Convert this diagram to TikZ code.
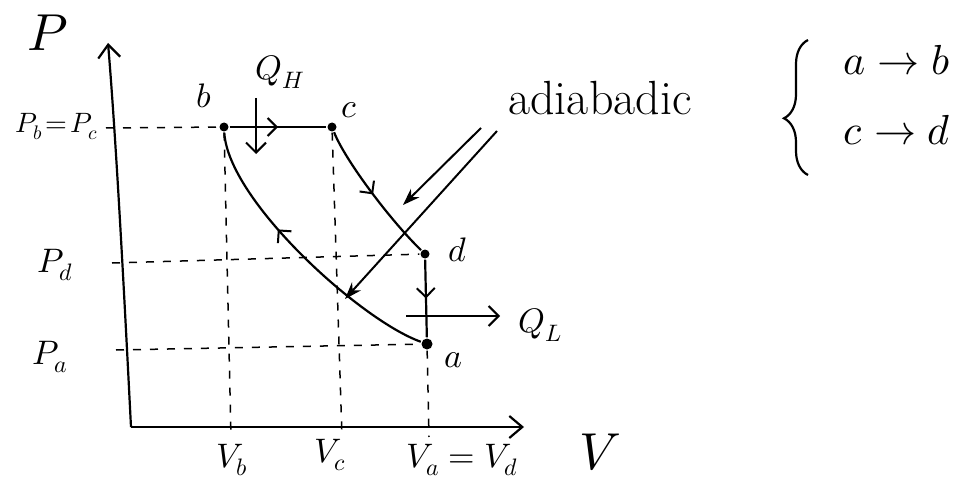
\documentclass[tikz,border=0pt]{standalone}
\usepackage{unicode-math}
\usetikzlibrary{arrows.meta,decorations.markings,decorations.pathreplacing}
\begin{document}
\begin{tikzpicture}[x=1pt,y=-1pt,
  line width=2.2pt,
  guide/.style={line width=1.5pt, dash pattern=on 8pt off 9pt},
  axisline/.style={line width=2.2pt, -{Straight Barb[length=13pt,width=22pt,line width=2.2pt]}},
  lbl/.style={font=\fontsize{34}{40}\selectfont, inner sep=0pt},
  small/.style={font=\fontsize{28}{34}\selectfont, inner sep=0pt},
  big/.style={font=\fontsize{52}{60}\selectfont, inner sep=0pt},
  pt/.style={circle, fill, inner sep=0pt, minimum size=9pt},
  midarrow/.style={postaction={decorate}, decoration={markings, mark=at position #1 with {\arrow{Straight Barb[length=9pt,width=18pt,line width=2pt]}}}},
  barb/.style={-{Straight Barb[length=10pt,width=20pt,line width=2pt]}},
  ptr/.style={-{Stealth[length=17pt,width=12pt]}, line width=2pt}
]
\useasboundingbox (0,0) rectangle (963,484);

% axes
\coordinate (O) at (131,427);
\coordinate (ytop) at (108,43);
\coordinate (xend) at (524,427);
\draw[axisline] (O) .. controls (126,330) and (117,150) .. (ytop);
\draw[axisline] (O) -- (xend);

% states
\node[pt] (b) at (224,127) {};
\node[pt] (c) at (332,127) {};
\node[pt] (d) at (425,254) {};
\node[pt, minimum size=11pt] (a) at (427,344) {};

% tick coordinates
\coordinate (tpb) at (106,128);
\coordinate (tpd) at (112,263);
\coordinate (tpa) at (116,350);
\coordinate (tvb) at (231,437);
\coordinate (tvc) at (342,437);
\coordinate (tva) at (429,437);

% dashed guides
\draw[guide] (tpb) -- (b);
\draw[guide] (b) -- (tvb);
\draw[guide] (c) -- (tvc);
\draw[guide] (tpd) -- (d);
\draw[guide] (tpa) -- (a);
\draw[guide] (a) -- (tva);

% cycle
\draw[midarrow=0.5] (b) -- (c);
\draw[midarrow=0.5] (c) .. controls (345,160) and (390,220) .. (d);
\draw[midarrow=0.5] (d) -- (a);
\draw[midarrow=0.62] (a) .. controls (360,320) and (228,200) .. (b);

% heat flows
\coordinate (qh1) at (256,98);
\coordinate (qh2) at (256,154);
\draw[barb] (qh1) -- (qh2);
\node[lbl] (QH) at (280,72) {$Q_H$};
\coordinate (ql1) at (406,316);
\coordinate (ql2) at (500,316);
\draw[barb] (ql1) -- (ql2);
\node[lbl] (QL) at (540,325) {$Q_L$};

% state labels
\node[lbl] (lb) at (204,96) {$b$};
\node[lbl] (lc) at (349,110) {$c$};
\node[lbl] (ld) at (458,250) {$d$};
\node[lbl] (la) at (453,360) {$a$};

% axis labels
\node[big] (lP) at (48,33) {$P$};
\node[big] (lV) at (600,452) {$V$};
\node[small] (lpb) at (57,127) {$P_b\!=\!P_c$};
\node[lbl] (lpd) at (55,265) {$P_d$};
\node[lbl] (lpa) at (50,357) {$P_a$};
\node[lbl] (lvb) at (232,460) {$V_b$};
\node[lbl] (lvc) at (330,455) {$V_c$};
\node[lbl] (lva) at (462,460) {$V_a = V_d$};

% adiabatic annotation
\node[font=\fontsize{48}{56}\selectfont, inner sep=0pt] (adi) at (600,98) {adiabadic};
\coordinate (p1s) at (481,128);
\coordinate (p1e) at (403,205);
\coordinate (p2s) at (497,131);
\coordinate (p2e) at (345,299);
\draw[ptr] (p1s) -- (p1e);
\draw[ptr] (p2s) -- (p2e);

% brace
\draw[decorate, decoration={brace, amplitude=24pt, aspect=0.42}] (808,175) -- (808,40);
\node[lbl, font=\fontsize{42}{50}\selectfont] (r1) at (897,60) {$a \rightarrow b$};
\node[lbl, font=\fontsize{42}{50}\selectfont] (r2) at (897,130) {$c \rightarrow d$};
\end{tikzpicture}
\end{document}
